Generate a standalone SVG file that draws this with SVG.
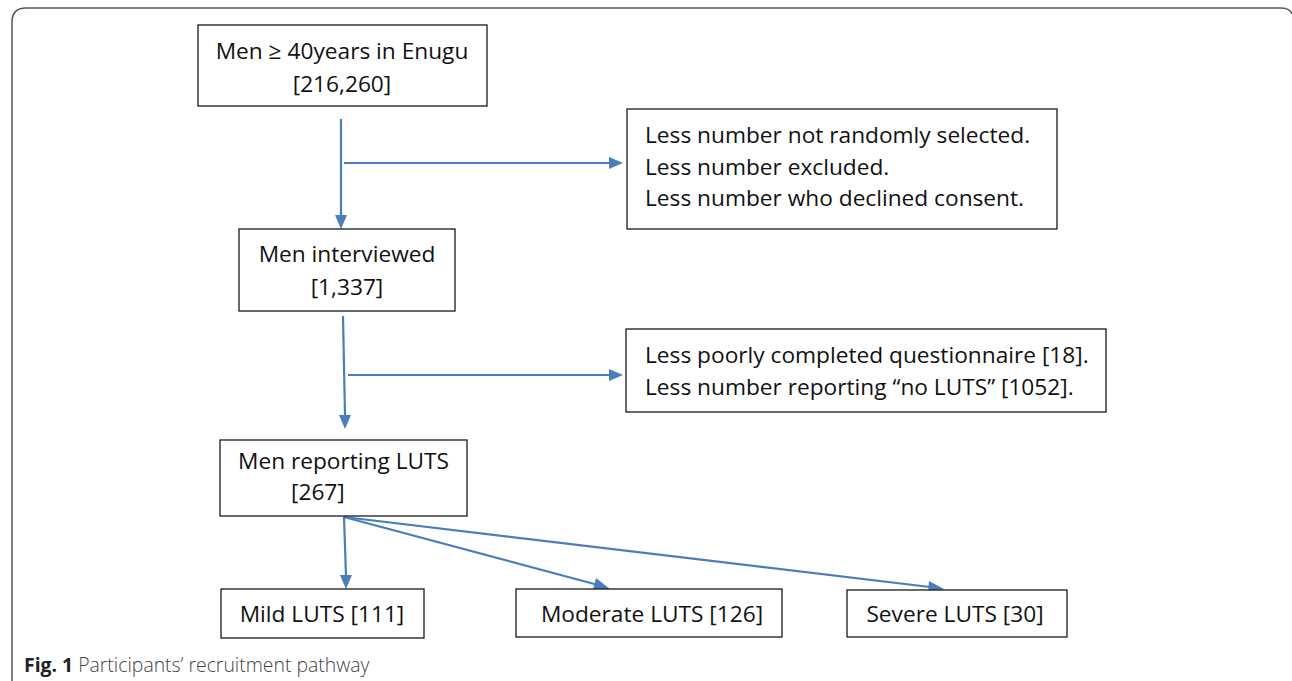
<svg xmlns="http://www.w3.org/2000/svg" width="1292" height="681" viewBox="0 0 1292 681">
<style>
.box{fill:#fff;stroke:#1a1a1a;stroke-width:1.3}
.t{font-family:"Open Sans","Liberation Sans",sans-serif;font-size:22.7px;fill:#111}
.ln{stroke:#4a7ebb;stroke-width:2.2;fill:none}
.ah{fill:#4a7ebb}
.cap{font-family:"Open Sans","Liberation Sans",sans-serif;font-size:19.4px;fill:#444;font-weight:300}
</style>
<rect width="1292" height="681" fill="#fff"/>
<path d="M12,700 L12,22 Q12,8 26,8 L1280,8 Q1290,8 1292,14" fill="none" stroke="#555" stroke-width="1.5"/>
<g id="connectors">
<line class="ln" x1="341" y1="119" x2="341" y2="216"/>
<path class="ah" d="M335,215 L347,215 L341,229 z"/>
<line class="ln" x1="344" y1="163" x2="610" y2="163"/>
<path class="ah" d="M609,157 L623,163 L609,169 z"/>
<line class="ln" x1="343" y1="316" x2="345" y2="416"/>
<path class="ah" d="M339,415 L351,415 L345,429 z"/>
<line class="ln" x1="348" y1="375" x2="610" y2="375"/>
<path class="ah" d="M609,369 L623,375 L609,381 z"/>
<line class="ln" x1="344" y1="517" x2="346" y2="576"/>
<path class="ah" d="M340,575 L352,575 L346,589 z"/>
<line class="ln" x1="344" y1="517" x2="598" y2="585"/>
<path class="ah" d="M596,578 L610,589 L593,590 z"/>
<line class="ln" x1="344" y1="517" x2="930" y2="587"/>
<path class="ah" d="M929,581 L944,589 L928,593 z"/>
</g>
<g id="n1"><rect class="box" x="198" y="25" width="289" height="81"/>
<text class="t" x="342" y="59" text-anchor="middle">Men ≥ 40years in Enugu</text>
<text class="t" x="342" y="92" text-anchor="middle">[216,260]</text></g>
<g id="n2"><rect class="box" x="627" y="109" width="430" height="120"/>
<text class="t" x="645" y="143">Less number not randomly selected.</text>
<text class="t" x="645" y="175">Less number excluded.</text>
<text class="t" x="645" y="206">Less number who declined consent.</text></g>
<g id="n3"><rect class="box" x="239" y="229" width="216" height="82"/>
<text class="t" x="347" y="262" text-anchor="middle">Men interviewed</text>
<text class="t" x="347" y="295" text-anchor="middle">[1,337]</text></g>
<g id="n4"><rect class="box" x="626" y="329" width="480" height="83"/>
<text class="t" x="645" y="363">Less poorly completed questionnaire [18].</text>
<text class="t" x="645" y="395">Less number reporting “no LUTS” [1052].</text></g>
<g id="n5"><rect class="box" x="220" y="440" width="247" height="76"/>
<text class="t" x="238" y="469">Men reporting LUTS</text>
<text class="t" x="291" y="500">[267]</text></g>
<g id="n6"><rect class="box" x="221" y="589" width="203" height="49"/>
<text class="t" x="322" y="622" text-anchor="middle">Mild LUTS [111]</text></g>
<g id="n7"><rect class="box" x="516" y="589" width="266" height="48"/>
<text class="t" x="652" y="622" text-anchor="middle">Moderate LUTS [126]</text></g>
<g id="n8"><rect class="box" x="847" y="590" width="220" height="47"/>
<text class="t" x="955" y="622" text-anchor="middle">Severe LUTS [30]</text></g>
<text class="cap" x="24" y="672"><tspan font-weight="bold" fill="#222">Fig. 1</tspan> Participants’ recruitment pathway</text>
</svg>
